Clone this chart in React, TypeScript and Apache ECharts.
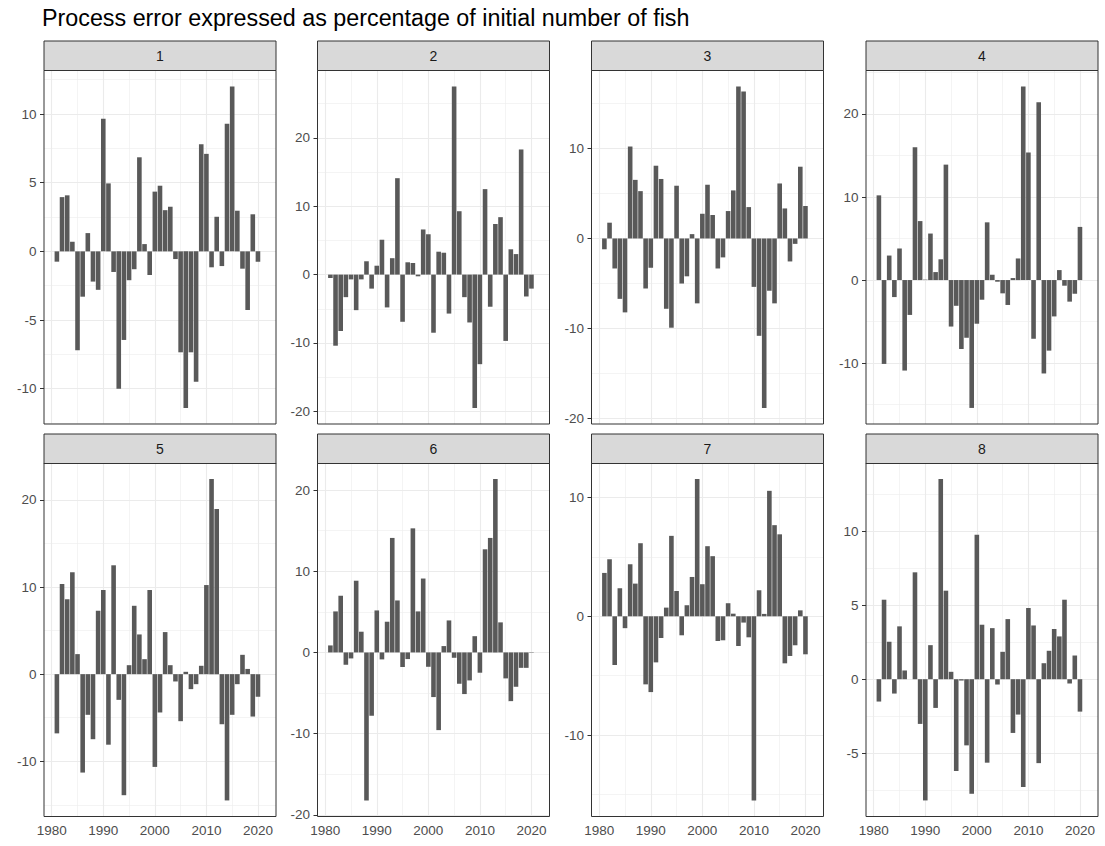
import React, { useEffect, useRef } from "react";
import * as echarts from "echarts";

const titleText = "Process error expressed as percentage of initial number of fish";

const years = [
  1981, 1982, 1983, 1984, 1985, 1986, 1987, 1988, 1989, 1990,
  1991, 1992, 1993, 1994, 1995, 1996, 1997, 1998, 1999, 2000,
  2001, 2002, 2003, 2004, 2005, 2006, 2007, 2008, 2009, 2010,
  2011, 2012, 2013, 2014, 2015, 2016, 2017, 2018, 2019, 2020,
];

const panelLabels = ["1", "2", "3", "4", "5", "6", "7", "8"];

const area1 = [
  -0.75, 3.95, 4.08, 0.7, -7.2, -3.3, 1.33, -2.2, -2.8, 9.66,
  4.95, -1.5, -10.0, -6.45, -2.1, -1.3, 6.85, 0.53, -1.72, 4.35,
  4.78, 3.0, 3.25, -0.56, -7.35, -11.4, -7.35, -9.5, 7.8, 7.1,
  -1.16, 2.52, -1.07, 9.3, 12.0, 2.96, -1.26, -4.27, 2.7, -0.75,
];
const area2 = [
  -0.5, -10.4, -8.25, -3.3, -0.7, -5.2, -0.7, 1.95, -2.05, 1.3,
  5.1, -4.8, 2.4, 14.1, -6.9, 1.8, 1.7, -0.25, 6.6, 5.9,
  -8.5, 3.35, 3.2, -5.7, 27.5, 9.27, -3.3, -7.0, -19.5, -13.1,
  12.5, -4.7, 7.4, 8.4, -9.7, 3.7, 3.0, 18.3, -3.2, -2.05,
];
const area3 = [
  -1.2, 1.75, -3.33, -6.7, -8.2, 10.2, 6.5, 5.25, -5.55, -3.25,
  8.07, 6.6, -7.8, -9.9, 5.85, -5.0, -4.2, 0.48, -7.2, 2.74,
  5.96, 2.6, -3.33, -2.1, 3.04, 5.33, 16.85, 16.3, 3.48, -5.37,
  -10.8, -18.8, -5.8, -7.2, 6.1, 3.33, -2.55, -0.6, 7.96, 3.6,
];
const area4 = [
  10.2, -10.1, 2.95, -2.05, 3.8, -10.9, -4.2, 16.0, 7.1, 0.05,
  5.6, 0.96, 2.5, 13.9, -5.6, -3.1, -8.3, -6.95, -15.4, -5.26,
  -2.37, 6.95, 0.64, -0.2, -1.6, -3.0, 0.24, 2.6, 23.3, 15.35,
  -7.07, 21.4, -11.25, -8.5, -4.38, 1.2, -0.68, -2.6, -1.65, 6.4,
];
const area5 = [
  -6.8, 10.35, 8.6, 11.7, 2.3, -11.3, -4.67, -7.47, 7.28, 9.66,
  -8.1, 12.5, -2.95, -13.9, 1.03, 7.85, 4.56, 1.72, 9.66, -10.65,
  -4.4, 4.83, 1.03, -0.84, -5.4, 0.27, -1.72, -1.15, 0.96, 10.23,
  22.4, 18.97, -5.75, -14.5, -4.67, -1.15, 2.22, 0.6, -4.87, -2.6,
];
const area6 = [
  0.86, 5.05, 6.98, -1.52, -0.74, 8.83, 2.55, -18.23, -7.8, 5.17,
  -0.86, 3.78, 14.1, 6.4, -1.8, -0.82, 15.28, 5.05, 9.1, -1.77,
  -5.5, -9.57, 0.78, 3.94, -0.66, -3.86, -5.13, -3.45, 2.0, -2.5,
  12.7, 14.1, 21.35, 3.7, -3.2, -6.0, -4.23, -1.9, -1.9, 0.05,
];
const area7 = [
  3.65, 4.8, -4.1, 2.36, -1.0, 4.38, 2.75, 6.15, -5.73, -6.38,
  -3.88, -1.83, 0.73, 6.77, 2.13, -1.6, 0.93, 3.31, 11.55, 2.7,
  5.9, 5.06, -2.08, -2.02, 1.1, 0.22, -2.5, -0.53, -1.77, -15.5,
  2.19, 0.2, 10.56, 7.67, 6.9, -3.96, -3.34, -2.44, 0.5, -3.2,
];
const area8 = [
  -1.51, 5.37, 2.53, -0.97, 3.57, 0.59, 0.0, 7.22, -3.02, -8.19,
  2.3, -1.94, 13.52, 5.98, 0.5, -6.2, -0.09, -4.47, -7.74, 9.75,
  3.68, -5.64, 3.45, -0.36, 1.85, 4.06, -3.63, -2.39, -7.29, 4.81,
  3.63, -5.67, 1.08, 1.92, 3.39, 2.89, 5.37, -0.29, 1.6, -2.19,
];

const panelValues = [area1, area2, area3, area4, area5, area6, area7, area8];

const yBreaks = [
  [-10, -5, 0, 5, 10],
  [-20, -10, 0, 10, 20],
  [-20, -10, 0, 10],
  [-10, 0, 10, 20],
  [-10, 0, 10, 20],
  [-20, -10, 0, 10, 20],
  [-10, 0, 10],
  [-5, 0, 5, 10],
];
const yMinor = [
  [-12.5, -7.5, -2.5, 2.5, 7.5, 12.5],
  [-15, -5, 5, 15, 25],
  [-15, -5, 5, 15],
  [-15, -5, 5, 15, 25],
  [-15, -5, 5, 15],
  [-15, -5, 5, 15],
  [-15, -5, 5],
  [-7.5, -2.5, 2.5, 7.5, 12.5],
];
const xBreaks = [1980, 1990, 2000, 2010, 2020];
const xMinor = [1985, 1995, 2005, 2015];
const xLimits = [1978.5, 2023.5];

// layout
const LEFTS = [44, 317.5, 591.5, 866];
const PW = 232;
const STRIP_TOPS = [41, 434];
const STRIP_H = 29.5;
const PLOT_TOPS = [70.5, 463];
const PH = 353.5;
const FONT = '"Liberation Sans", Arial, sans-serif';

function limits(vals: number[]): [number, number] {
  const lo = Math.min(0, ...vals);
  const hi = Math.max(0, ...vals);
  const pad = (hi - lo) * 0.05;
  return [lo - pad, hi + pad];
}

export default function App() {
  const ref = useRef<HTMLDivElement>(null);
  useEffect(() => {
    const chart = echarts.init(ref.current!, null, { renderer: "svg" });
    const grids: any[] = [];
    const xAxes: any[] = [];
    const yAxes: any[] = [];
    const series: any[] = [];
    const graphics: any[] = [];
    const major = { color: "#EBEBEB", width: 1.1, type: "solid" };
    const minor = { color: "#EDEDED", width: 0.6, type: "solid" };

    panelValues.forEach((vals, i) => {
      const row = Math.floor(i / 4);
      const col = i % 4;
      const [ymin, ymax] = limits(vals);
      grids.push({
        left: LEFTS[col],
        top: PLOT_TOPS[row],
        width: PW,
        height: PH,
        show: true,
        borderColor: "#333333",
        borderWidth: 1,
        backgroundColor: "transparent",
        z: 3,
        containLabel: false,
        outerBoundsMode: "none",
      });
      xAxes.push({
        type: "value",
        gridIndex: i,
        min: xLimits[0],
        max: xLimits[1],
        axisLine: { show: false },
        splitLine: { show: false },
        axisTick: {
          show: row === 1,
          length: 4,
          customValues: xBreaks,
          lineStyle: { color: "#333333", width: 1 },
        },
        axisLabel: {
          show: row === 1,
          customValues: xBreaks,
          formatter: (v: number) => String(v),
          color: "#4D4D4D",
          fontSize: 13.5,
          fontFamily: FONT,
          margin: 7,
        },
      });
      yAxes.push({
        type: "value",
        gridIndex: i,
        min: ymin,
        max: ymax,
        axisLine: { show: false },
        splitLine: { show: false },
        axisTick: {
          show: true,
          length: 4,
          customValues: yBreaks[i],
          lineStyle: { color: "#333333", width: 1 },
        },
        axisLabel: {
          customValues: yBreaks[i],
          formatter: (v: number) => String(v),
          color: "#4D4D4D",
          fontSize: 13.5,
          fontFamily: FONT,
          margin: 7.5,
        },
      });
      const lines: any[] = [];
      xMinor.forEach((v) => lines.push({ xAxis: v, lineStyle: minor }));
      yMinor[i].forEach((v) => lines.push({ yAxis: v, lineStyle: minor }));
      xBreaks.forEach((v) => lines.push({ xAxis: v, lineStyle: major }));
      yBreaks[i].forEach((v) => lines.push({ yAxis: v, lineStyle: major }));
      series.push({
        type: "bar",
        xAxisIndex: i,
        yAxisIndex: i,
        z: 2,
        barWidth: 4.6,
        itemStyle: { color: "#595959" },
        silent: true,
        data: years.map((y, k) => [y, vals[k]]),
        markLine: {
          z: 1,
          silent: true,
          symbol: ["none", "none"],
          label: { show: false },
          emphasis: { disabled: true },
          animation: false,
          data: lines,
        },
      });
      graphics.push({
        type: "rect",
        shape: { x: LEFTS[col], y: STRIP_TOPS[row], width: PW, height: STRIP_H },
        style: { fill: "#D9D9D9", stroke: "#333333", lineWidth: 1 },
        z: 5,
      });
      graphics.push({
        type: "text",
        x: LEFTS[col] + PW / 2,
        y: STRIP_TOPS[row] + STRIP_H / 2,
        z: 6,
        style: {
          text: panelLabels[i],
          fill: "#1A1A1A",
          font: `14px ${FONT}`,
          align: "center",
          verticalAlign: "middle",
          textAlign: "center",
          textVerticalAlign: "middle",
        },
      });
    });

    chart.setOption({
      animation: false,
      backgroundColor: "#ffffff",
      title: {
        text: titleText,
        left: 42,
        top: 6,
        padding: 0,
        textStyle: {
          fontSize: 23.3,
          fontWeight: "normal",
          color: "#000000",
          fontFamily: FONT,
        },
      },
      grid: grids,
      xAxis: xAxes,
      yAxis: yAxes,
      series,
      graphic: graphics,
    });
    return () => chart.dispose();
  }, []);
  return (
    <div
      ref={ref}
      style={{ position: "fixed", left: 0, top: 0, width: 1105, height: 846, background: "#fff" }}
    />
  );
}
